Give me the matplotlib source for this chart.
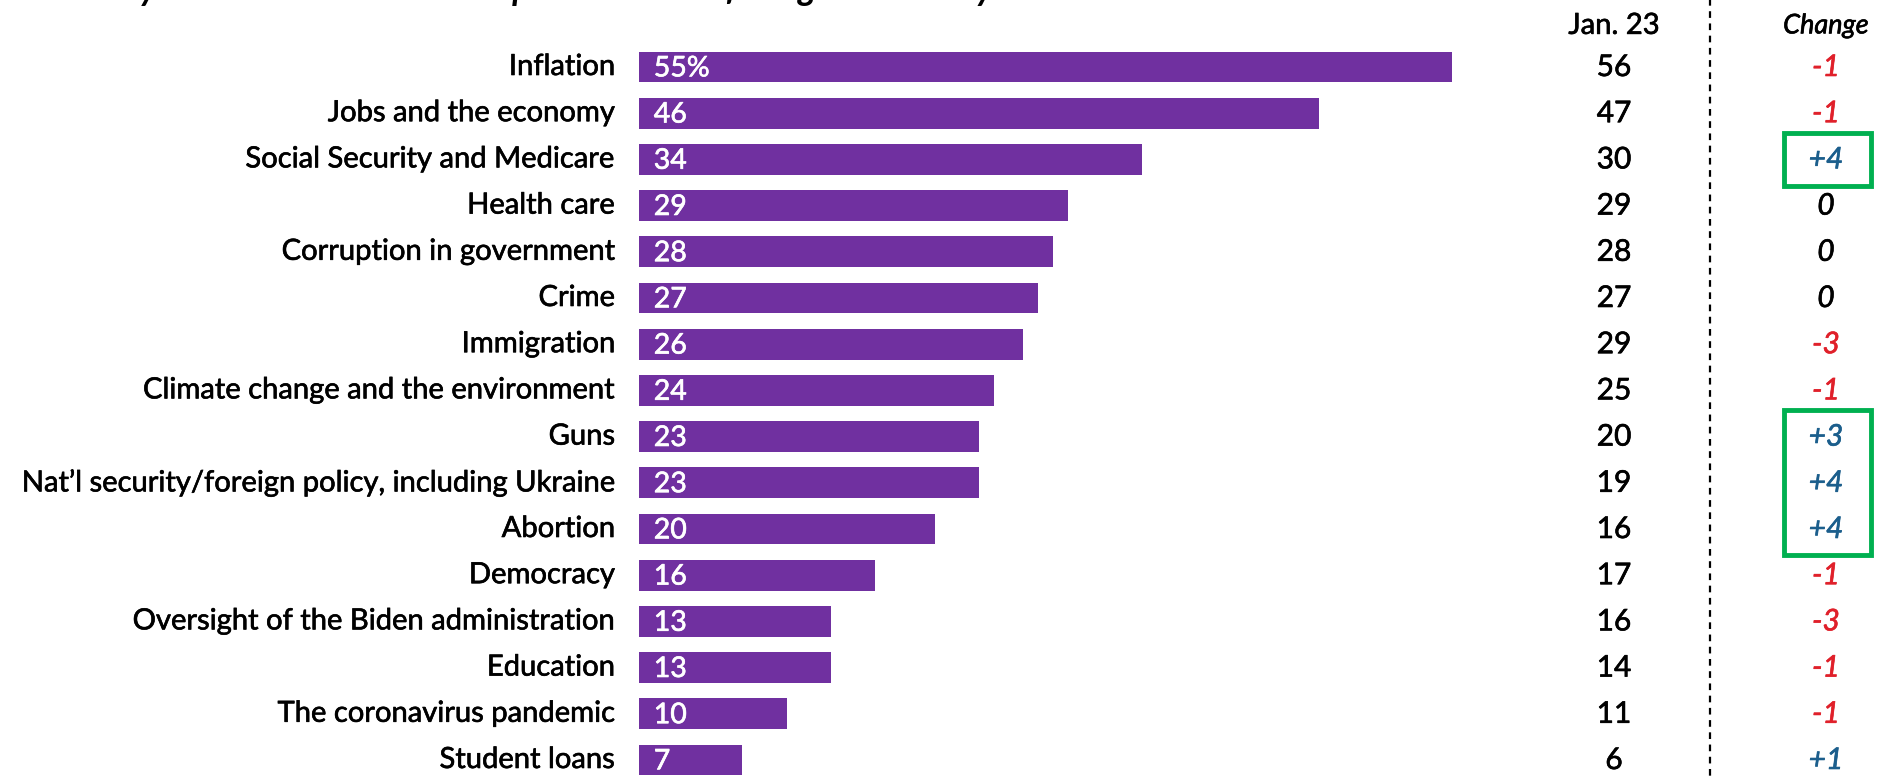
import matplotlib
matplotlib.use("Agg")
import matplotlib.pyplot as plt
import matplotlib.transforms as mtransforms
import matplotlib.patheffects as pe
from matplotlib.patches import Rectangle

plt.rcParams['font.family'] = ['Lato', 'DejaVu Sans']

# data
issues = [
    "Inflation", "Jobs and the economy", "Social Security and Medicare",
    "Health care", "Corruption in government", "Crime", "Immigration",
    "Climate change and the environment", "Guns",
    "Nat\u2019l security/foreign policy, including Ukraine", "Abortion",
    "Democracy", "Oversight of the Biden administration", "Education",
    "The coronavirus pandemic", "Student loans",
]
current = [55, 46, 34, 29, 28, 27, 26, 24, 23, 23, 20, 16, 13, 13, 10, 7]
jan23 = [56, 47, 30, 29, 28, 27, 29, 25, 20, 19, 16, 17, 16, 14, 11, 6]
change = ["-1", "-1", "+4", "0", "0", "0", "-3", "-1", "+3", "+4", "+4",
          "-1", "-3", "-1", "-1", "+1"]
boxed_groups = [(2, 2), (8, 10)]

title = "Which do you think are the most important issues facing the country?"

PURPLE = "#7030A0"
RED = "#E0202A"
BLUE = "#1B5E8C"
GREEN = "#00B050"

W, H = 1882, 776
fig = plt.figure(figsize=(W / 100, H / 100), dpi=100)


def heavy(color):
    # thicken the regular weight a little, the reference uses a medium face
    return [pe.withStroke(linewidth=0.45, foreground=color)]


# bar axes: left edge at pixel 639, 14.78 px per point
left_px = 639
ax = fig.add_axes([left_px / W, 0, 1 - left_px / W, 1])
ax.set_xlim(0, (W - left_px) / 14.78)
row_px, first_px = 46.2, 67
ax.set_ylim((H - first_px) / row_px, -first_px / row_px)
ax.axis('off')

ypos = list(range(len(issues)))
ax.barh(ypos, current, height=0.67, color=PURPLE)

for y, v in zip(ypos, current):
    lbl = f"{v}%" if y == 0 else str(v)
    ax.text(1.0, y + 0.03, lbl, color='white', fontsize=20.5, va='center',
            ha='left', path_effects=heavy('white'))

# category labels (x in figure fraction, y in data)
tr = mtransforms.blended_transform_factory(fig.transFigure, ax.transData)
for y, name in zip(ypos, issues):
    ax.text(615 / W, y, name, transform=tr, ha='right', va='center',
            fontsize=21, color='black', path_effects=heavy('black'))

# Jan. 23 and change columns
jan_x = 1614 / W
chg_x = 1826 / W
ax.text(jan_x, -0.89, "Jan. 23", transform=tr, ha='center', va='center',
        fontsize=21, path_effects=heavy('black'))
ax.text(chg_x, -0.89, "Change", transform=tr, ha='center', va='center',
        fontsize=19.5, style='italic', path_effects=heavy('black'))
for y, j, c in zip(ypos, jan23, change):
    ax.text(jan_x, y, str(j), transform=tr, ha='center', va='center',
            fontsize=21.5, path_effects=heavy('black'))
    col = RED if c.startswith('-') else (BLUE if c.startswith('+') else 'black')
    ax.text(chg_x, y, c, transform=tr, ha='center', va='center',
            fontsize=21.5, style='italic', color=col, path_effects=heavy(col))

# dashed divider
ax.plot([1710 / W, 1710 / W], [-1.6, 15.5], transform=tr, color='black',
        linestyle=(0, (3, 2.5)), linewidth=1.6, clip_on=False)

# green highlight boxes
for r0, r1 in boxed_groups:
    ax.add_patch(Rectangle((1784 / W, r0 - 0.57), 87 / W, (r1 - r0) + 1.14,
                           transform=tr, fill=False, edgecolor=GREEN,
                           linewidth=3.5, clip_on=False))

# title, mostly cropped off the top of the picture
fig.text(-0.004, 1 - 0.5 / H, title, ha='left', va='baseline', fontsize=25,
         fontweight='bold', style='italic')

fig.savefig("out.png", dpi=100, facecolor='white')
